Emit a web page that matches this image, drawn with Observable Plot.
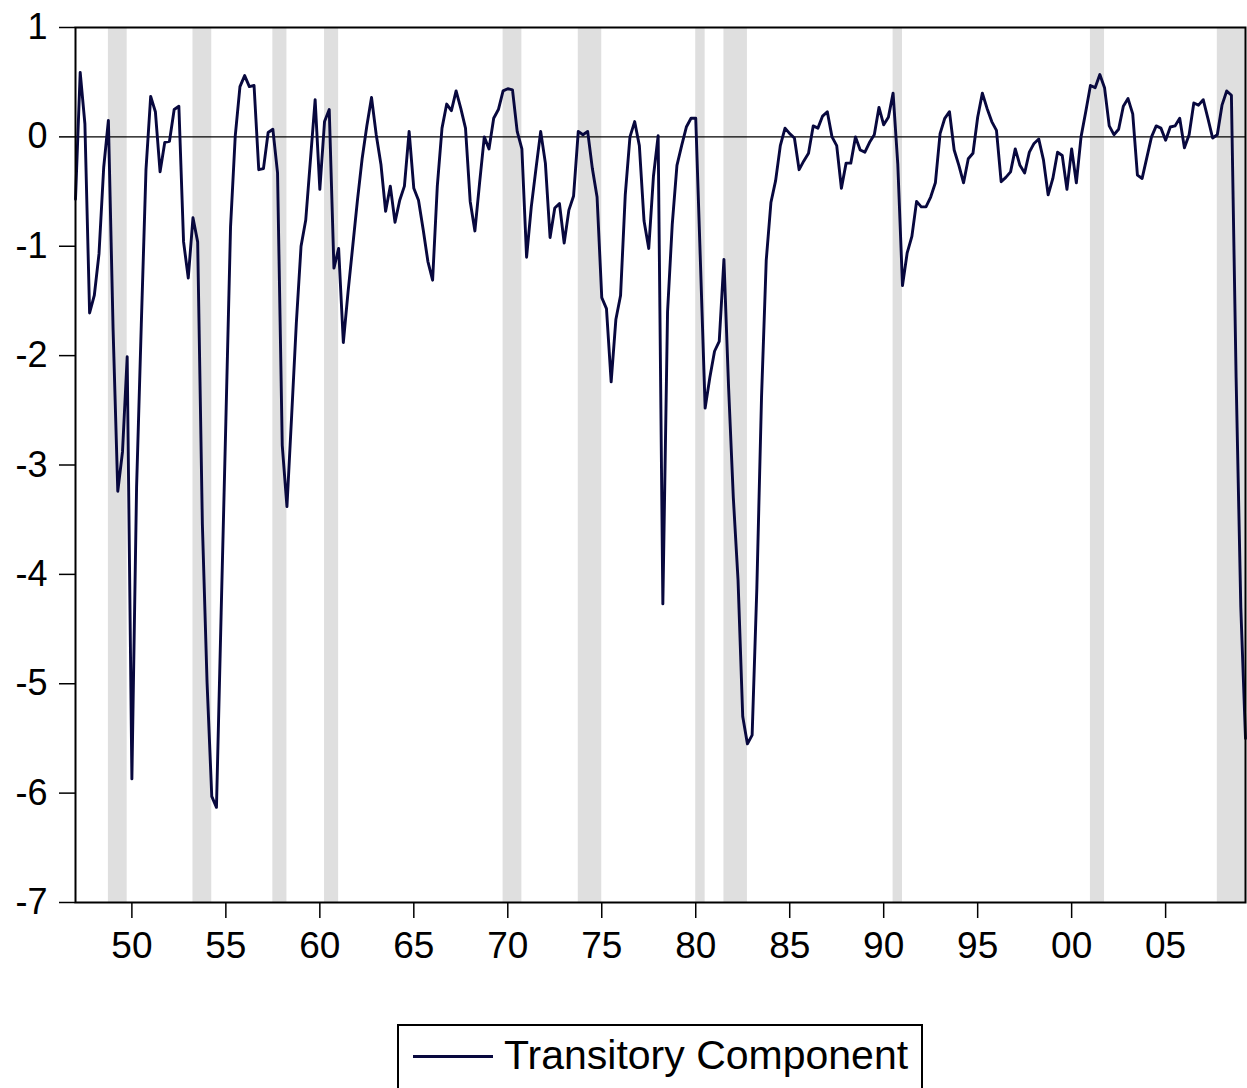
<!DOCTYPE html>
<html>
<head>
<meta charset="utf-8">
<script src="https://cdn.jsdelivr.net/npm/d3@7"></script>
<script src="https://cdn.jsdelivr.net/npm/@observablehq/plot@0.6"></script>
<style>
  body { margin: 0; background: #fff; font-family: "Liberation Sans", Arial, sans-serif; }
  #wrap { position: relative; width: 1247px; height: 1088px; overflow: hidden; background: #fff; }
  #chart { position: absolute; left: 0; top: 0; }
  #legend { position: absolute; left: 397px; top: 1024px; width: 526px; height: 90px;
            border: 2px solid #000; box-sizing: border-box; background: #fff; }
  #legend .swatch { position: absolute; left: 14px; top: 29px; width: 80px; height: 2.6px; background: #08083e; }
  #legend .label { position: absolute; left: 105px; top: 5px; font-size: 41px; line-height: 48px; color: #000; white-space: nowrap; }
</style>
</head>
<body>
<div id="wrap">
  <div id="chart"></div>
  <div id="legend"><div class="swatch"></div><span class="label" id="legendLabel"></span></div>
</div>
<script>
// ---- data ----
const seriesName = "Transitory Component";
const startYear = 1947; // first quarter: 1947Q1, quarterly observations
const values = [
  -0.57, 0.59, 0.12, -1.61,   // 1947
  -1.45, -1.07, -0.28, 0.15,  // 1948
  -1.76, -3.24, -2.88, -2.01, // 1949
  -5.87, -3.20, -1.72, -0.30, // 1950
  0.37, 0.23, -0.32, -0.05,   // 1951
  -0.04, 0.25, 0.28, -0.96,   // 1952
  -1.29, -0.74, -0.96, -3.54, // 1953
  -4.99, -6.03, -6.13, -4.35, // 1954
  -2.60, -0.82, 0.01, 0.46,   // 1955
  0.56, 0.46, 0.47, -0.30,    // 1956
  -0.29, 0.04, 0.07, -0.33,   // 1957
  -2.82, -3.38, -2.55, -1.70, // 1958
  -1.00, -0.76, -0.21, 0.34,  // 1959
  -0.48, 0.14, 0.25, -1.20,   // 1960
  -1.02, -1.88, -1.42, -1.00, // 1961
  -0.58, -0.20, 0.10, 0.36,   // 1962
  0.02, -0.25, -0.68, -0.45,  // 1963
  -0.78, -0.58, -0.45, 0.05,  // 1964
  -0.47, -0.58, -0.85, -1.14, // 1965
  -1.31, -0.45, 0.08, 0.30,   // 1966
  0.24, 0.42, 0.26, 0.08,     // 1967
  -0.59, -0.86, -0.42, 0.00,  // 1968
  -0.11, 0.17, 0.25, 0.42,    // 1969
  0.44, 0.43, 0.05, -0.11,    // 1970
  -1.10, -0.64, -0.29, 0.05,  // 1971
  -0.24, -0.92, -0.65, -0.61, // 1972
  -0.97, -0.67, -0.54, 0.05,  // 1973
  0.02, 0.05, -0.29, -0.55,   // 1974
  -1.47, -1.57, -2.24, -1.67, // 1975
  -1.45, -0.53, 0.00, 0.14,   // 1976
  -0.08, -0.77, -1.02, -0.36, // 1977
  0.01, -4.27, -1.60, -0.80,  // 1978
  -0.26, -0.08, 0.09, 0.17,   // 1979
  0.17, -1.15, -2.48, -2.20,  // 1980
  -1.96, -1.87, -1.12, -2.30, // 1981
  -3.30, -4.05, -5.30, -5.55, // 1982
  -5.47, -4.13, -2.38, -1.13, // 1983
  -0.60, -0.40, -0.08, 0.08,  // 1984
  0.03, -0.01, -0.30, -0.22,  // 1985
  -0.15, 0.10, 0.08, 0.19,    // 1986
  0.23, 0.00, -0.08, -0.47,   // 1987
  -0.24, -0.24, 0.00, -0.12,  // 1988
  -0.14, -0.05, 0.02, 0.27,   // 1989
  0.11, 0.18, 0.40, -0.25,    // 1990
  -1.36, -1.06, -0.91, -0.59, // 1991
  -0.64, -0.64, -0.55, -0.42, // 1992
  0.03, 0.17, 0.23, -0.12,    // 1993
  -0.26, -0.42, -0.20, -0.15, // 1994
  0.18, 0.40, 0.26, 0.14,     // 1995
  0.06, -0.41, -0.37, -0.32,  // 1996
  -0.11, -0.26, -0.33, -0.14, // 1997
  -0.06, -0.02, -0.21, -0.53, // 1998
  -0.38, -0.14, -0.17, -0.48, // 1999
  -0.11, -0.42, 0.00, 0.23,   // 2000
  0.47, 0.45, 0.57, 0.45,     // 2001
  0.10, 0.02, 0.07, 0.28,     // 2002
  0.35, 0.21, -0.35, -0.38,   // 2003
  -0.19, 0.00, 0.10, 0.08,    // 2004
  -0.03, 0.09, 0.10, 0.17,    // 2005
  -0.10, 0.02, 0.31, 0.29,    // 2006
  0.34, 0.17, -0.01, 0.02,    // 2007
  0.29, 0.42, 0.38, -2.20,    // 2008
  -4.30, -5.50                // 2009
];
// recession shading (start / end, in fractional years of quarterly points)
const recessionStart = [1948.75, 1953.25, 1957.5, 1960.25, 1969.75, 1973.75, 1980.0, 1981.5, 1990.5, 2001.0, 2007.75];
const recessionEnd   = [1949.75, 1954.25, 1958.25, 1961.0, 1970.75, 1975.0, 1980.5, 1982.75, 1991.0, 2001.75, 2009.25];
const xTicks = [1950, 1955, 1960, 1965, 1970, 1975, 1980, 1985, 1990, 1995, 2000, 2005];
const yTicks = [-7, -6, -5, -4, -3, -2, -1, 0, 1];
const xDomain = [1947, 2009.25];
const yDomain = [-7, 1];

// ---- build ----
const data = values.map((v, i) => ({ date: startYear + i / 4, value: v }));
const bands = recessionStart.map((s, i) => ({ x1: s, x2: recessionEnd[i] }));

const chart = Plot.plot({
  width: 1247,
  height: 1000,
  marginLeft: 75,
  marginRight: 2,
  marginTop: 27,
  marginBottom: 98,
  style: { fontFamily: "'Liberation Sans', Arial, sans-serif", fontSize: "36px", color: "#000", background: "#fff", overflow: "visible" },
  x: { domain: xDomain },
  y: { domain: yDomain },
  marks: [
    Plot.rect(bands, { x1: "x1", x2: "x2", y1: yDomain[0], y2: yDomain[1], fill: "#dfdfdf" }),
    Plot.ruleY([0], { stroke: "#000", strokeWidth: 1.3 }),
    Plot.lineY(data, { x: "date", y: "value", stroke: "#08083e", strokeWidth: 2.9 }),
    Plot.frame({ stroke: "#000", strokeWidth: 2 }),
    Plot.axisY({ ticks: yTicks, tickSize: 16, tickPadding: 12, tickFormat: d => String(d), label: null, fontSize: 36, strokeWidth: 1.5 }),
    Plot.axisX({ ticks: xTicks, tickSize: 16, tickPadding: 13, tickFormat: d => String(d % 100).padStart(2, "0"), label: null, fontSize: 37, strokeWidth: 1.5 })
  ]
});
document.getElementById("chart").appendChild(chart);
document.getElementById("legendLabel").textContent = seriesName;
</script>
</body>
</html>
